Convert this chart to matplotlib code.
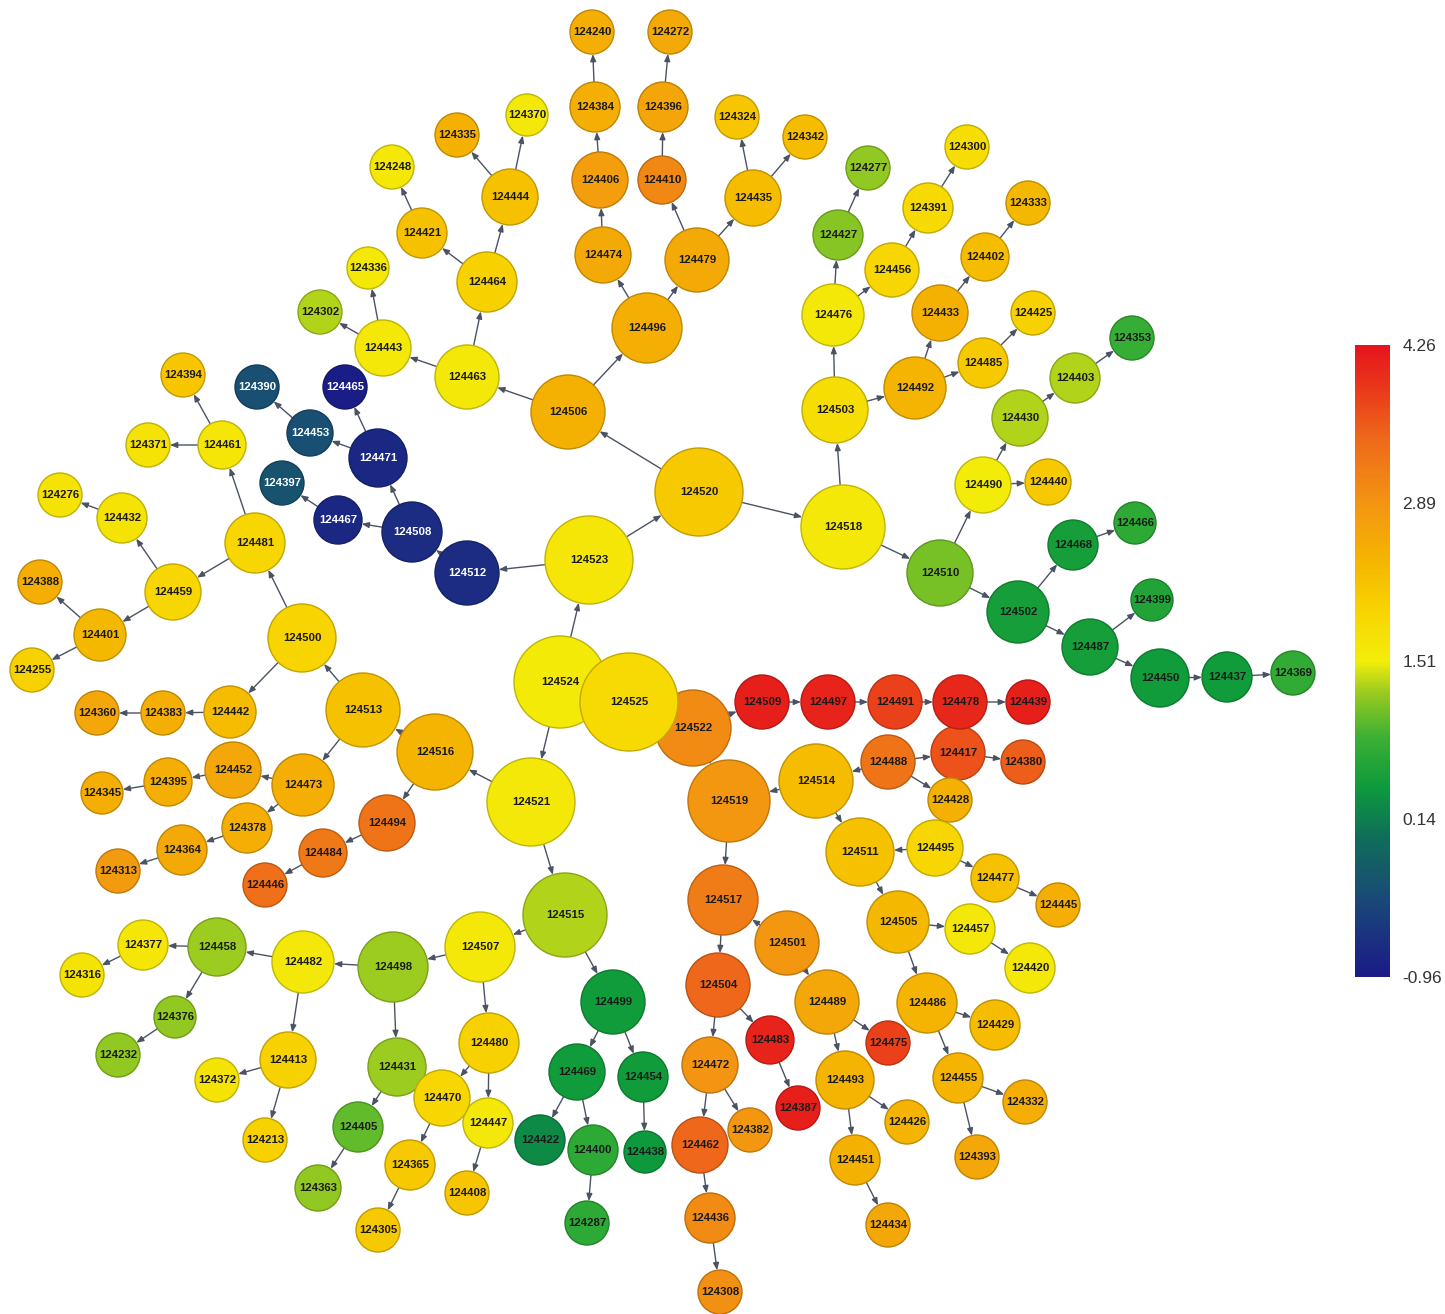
import numpy as np
import matplotlib
matplotlib.use("Agg")
import matplotlib.pyplot as plt
from matplotlib.colors import LinearSegmentedColormap, FuncNorm
from matplotlib.collections import PatchCollection
from matplotlib.patches import Circle
from matplotlib.cm import ScalarMappable

# ---------------------------------------------------------------- data
# node id -> value shown by colour
node_values = {
    124525: 1.85, 124524: 1.58, 124523: 1.65, 124522: 3.00, 124521: 1.60,
    124520: 2.10, 124519: 2.85, 124518: 1.60, 124517: 3.20, 124516: 2.40,
    124515: 1.30, 124514: 2.30, 124513: 2.20, 124512: -0.75, 124511: 2.20,
    124510: 1.10, 124509: 4.15, 124508: -0.75, 124507: 1.60, 124506: 2.45,
    124505: 2.35, 124504: 3.45, 124503: 1.80, 124502: 0.50, 124501: 2.85,
    124500: 1.95, 124499: 0.45, 124498: 1.25, 124497: 4.10, 124496: 2.50,
    124495: 1.90, 124494: 3.30, 124493: 2.40, 124492: 2.40, 124491: 3.80,
    124490: 1.55, 124489: 2.60, 124488: 3.30, 124487: 0.50, 124486: 2.40,
    124485: 2.10, 124484: 3.25, 124483: 4.10, 124482: 1.60, 124481: 1.90,
    124480: 2.00, 124479: 2.55, 124478: 4.05, 124477: 2.20, 124476: 1.60,
    124475: 3.80, 124474: 2.55, 124473: 2.50, 124472: 2.90, 124471: -0.80,
    124470: 1.90, 124469: 0.45, 124468: 0.50, 124467: -0.80, 124466: 0.70,
    124465: -0.92, 124464: 2.00, 124463: 1.60, 124462: 3.45, 124461: 1.65,
    124459: 1.90, 124458: 1.25, 124457: 1.60, 124456: 1.90, 124455: 2.40,
    124454: 0.45, 124453: -0.35, 124452: 2.60, 124451: 2.45, 124450: 0.45,
    124447: 1.60,
    124446: 3.35, 124445: 2.50, 124444: 2.20, 124443: 1.60, 124442: 2.30,
    124440: 2.10, 124439: 4.15, 124438: 0.40, 124437: 0.45, 124436: 3.00,
    124435: 2.30, 124434: 2.60, 124433: 2.45, 124432: 1.70, 124431: 1.25,
    124430: 1.30, 124429: 2.30, 124428: 2.45, 124427: 1.15, 124426: 2.40,
    124425: 2.00, 124422: 0.25, 124421: 2.20, 124420: 1.60, 124417: 3.65,
    124413: 2.00, 124410: 3.05, 124408: 2.15, 124406: 2.75, 124405: 1.00,
    124403: 1.30, 124402: 2.30, 124401: 2.35, 124400: 0.70, 124399: 0.60,
    124397: -0.30, 124396: 2.65, 124395: 2.50, 124394: 2.15, 124393: 2.60,
    124391: 1.85, 124390: -0.35, 124388: 2.50, 124387: 4.15, 124384: 2.50,
    124383: 2.50, 124382: 2.85, 124380: 3.55, 124378: 2.50, 124377: 1.65,
    124376: 1.20, 124372: 1.70, 124371: 1.70, 124370: 1.60, 124369: 0.75,
    124365: 2.10, 124364: 2.55, 124363: 1.20, 124360: 2.60, 124353: 0.80,
    124345: 2.50, 124342: 2.30, 124336: 1.60, 124335: 2.45, 124333: 2.35,
    124332: 2.50, 124324: 2.15, 124316: 1.70, 124313: 2.80, 124308: 2.95,
    124305: 2.10, 124302: 1.30, 124300: 1.80, 124287: 0.70, 124277: 1.20,
    124276: 1.70, 124272: 2.55, 124255: 2.00, 124248: 1.60, 124240: 2.50,
    124232: 1.20, 124213: 2.00,
}

# directed links (source, target)
edges = [
    (124525, 124524), (124525, 124522), (124524, 124523), (124524, 124521),
    (124523, 124520), (124523, 124512), (124520, 124506), (124520, 124518),
    (124518, 124503), (124518, 124510), (124510, 124490), (124510, 124502),
    (124490, 124430), (124490, 124440), (124430, 124403), (124403, 124353),
    (124502, 124468), (124468, 124466), (124502, 124487), (124487, 124399),
    (124487, 124450), (124450, 124437), (124437, 124369),
    (124503, 124476), (124503, 124492), (124476, 124427), (124427, 124277),
    (124476, 124456), (124456, 124391), (124391, 124300),
    (124492, 124433), (124433, 124402), (124402, 124333), (124492, 124485),
    (124485, 124425),
    (124506, 124496), (124506, 124463), (124496, 124474), (124496, 124479),
    (124474, 124406), (124406, 124384), (124384, 124240),
    (124479, 124410), (124410, 124396), (124396, 124272),
    (124479, 124435), (124435, 124324), (124435, 124342),
    (124463, 124443), (124463, 124464), (124443, 124302), (124443, 124336),
    (124464, 124421), (124421, 124248), (124464, 124444), (124444, 124335),
    (124444, 124370),
    (124512, 124508), (124508, 124471), (124508, 124467), (124467, 124397),
    (124471, 124453), (124471, 124465), (124453, 124390),
    (124521, 124516), (124521, 124515), (124516, 124513), (124516, 124494),
    (124494, 124484), (124484, 124446), (124513, 124500), (124513, 124473),
    (124500, 124481), (124500, 124442), (124442, 124383), (124383, 124360),
    (124481, 124461), (124481, 124459), (124461, 124394), (124461, 124371),
    (124459, 124432), (124432, 124276), (124459, 124401), (124401, 124388),
    (124401, 124255),
    (124473, 124452), (124452, 124395), (124395, 124345), (124473, 124378),
    (124378, 124364), (124364, 124313),
    (124515, 124507), (124515, 124499), (124507, 124498), (124507, 124480),
    (124498, 124482), (124498, 124431), (124482, 124458), (124482, 124413),
    (124458, 124377), (124377, 124316), (124458, 124376), (124376, 124232),
    (124413, 124372), (124413, 124213), (124431, 124405), (124405, 124363),
    (124480, 124470), (124480, 124447), (124470, 124365), (124365, 124305),
    (124447, 124408),
    (124499, 124469), (124499, 124454), (124469, 124422), (124469, 124400),
    (124400, 124287), (124454, 124438),
    (124522, 124509), (124509, 124497), (124497, 124491), (124491, 124478),
    (124478, 124439),
    (124522, 124519), (124519, 124517), (124514, 124519),
    (124488, 124514), (124488, 124417), (124417, 124380), (124488, 124428),
    (124514, 124511), (124495, 124511), (124495, 124477), (124477, 124445),
    (124511, 124505), (124505, 124457), (124457, 124420), (124505, 124486),
    (124486, 124429), (124486, 124455), (124455, 124332), (124455, 124393),
    (124517, 124504), (124501, 124517),
    (124501, 124489), (124489, 124475), (124489, 124493), (124493, 124426),
    (124493, 124451), (124451, 124434),
    (124504, 124483), (124483, 124387), (124504, 124472), (124472, 124462),
    (124472, 124382), (124462, 124436), (124436, 124308),
]

colorbar_ticks = [-0.96, 0.14, 1.51, 2.89, 4.26]

# ---------------------------------------------------------------- layout
# node id -> (x, y, radius) in canvas pixels (y downwards)
layout = {
    124525: (629, 702, 49), 124524: (560, 682, 46), 124523: (589, 560, 44),
    124522: (693, 728, 38), 124521: (531, 802, 44), 124520: (699, 492, 44),
    124519: (729, 801, 41), 124518: (843, 527, 42), 124517: (723, 900, 35),
    124516: (435, 752, 38), 124515: (565, 915, 42), 124514: (816, 781, 37),
    124513: (363, 710, 37), 124512: (467, 573, 32), 124511: (860, 852, 34),
    124510: (940, 573, 33), 124509: (762, 702, 27), 124508: (412, 532, 30),
    124507: (480, 947, 35), 124506: (568, 412, 37), 124505: (898, 922, 31),
    124504: (718, 985, 32), 124503: (835, 410, 33), 124502: (1018, 612, 31),
    124501: (787, 943, 32), 124500: (302, 638, 34), 124499: (613, 1002, 32),
    124498: (393, 967, 35), 124497: (828, 702, 27), 124496: (647, 328, 35),
    124495: (935, 848, 28), 124494: (387, 823, 28), 124493: (845, 1080, 29),
    124492: (915, 388, 31), 124491: (895, 702, 27), 124490: (983, 485, 28),
    124489: (827, 1002, 32), 124488: (888, 762, 27), 124487: (1090, 647, 28),
    124486: (927, 1003, 30), 124485: (983, 363, 25), 124484: (323, 853, 24),
    124483: (770, 1040, 24), 124482: (303, 962, 31), 124481: (255, 543, 30),
    124480: (489, 1043, 30), 124479: (697, 260, 32), 124478: (960, 702, 27),
    124477: (995, 878, 24), 124476: (833, 315, 31), 124475: (888, 1043, 22),
    124474: (603, 255, 28), 124473: (303, 785, 31), 124472: (710, 1065, 28),
    124471: (378, 458, 29), 124470: (442, 1098, 28), 124469: (577, 1072, 28),
    124468: (1073, 545, 25), 124467: (338, 520, 24), 124466: (1135, 523, 21),
    124465: (345, 387, 22), 124464: (487, 282, 30), 124463: (467, 377, 32),
    124462: (700, 1145, 28), 124461: (222, 445, 24), 124459: (173, 592, 28),
    124458: (217, 947, 29), 124457: (970, 929, 25), 124456: (892, 270, 27),
    124455: (958, 1078, 25), 124454: (643, 1077, 25), 124453: (310, 433, 23),
    124452: (233, 770, 28), 124451: (855, 1160, 25), 124450: (1160, 678, 29),
    124447: (488, 1123, 25),
    124446: (265, 885, 22), 124445: (1058, 905, 22), 124444: (510, 197, 28),
    124443: (383, 348, 28), 124442: (230, 712, 26), 124440: (1048, 482, 23),
    124439: (1028, 702, 22), 124438: (645, 1152, 21), 124437: (1227, 677, 25),
    124436: (710, 1218, 25), 124435: (753, 198, 28), 124434: (888, 1225, 22),
    124433: (940, 313, 28), 124432: (122, 518, 25), 124431: (397, 1067, 29),
    124430: (1020, 418, 28), 124429: (995, 1025, 25), 124428: (950, 800, 22),
    124427: (838, 235, 25), 124426: (907, 1122, 22), 124425: (1033, 313, 22),
    124422: (540, 1140, 25), 124421: (422, 233, 25), 124420: (1030, 968, 25),
    124417: (958, 753, 27), 124413: (288, 1060, 28), 124410: (662, 180, 24),
    124408: (467, 1193, 22), 124406: (600, 180, 28), 124405: (358, 1127, 25),
    124403: (1075, 378, 25), 124402: (985, 257, 24), 124401: (100, 635, 26),
    124400: (593, 1150, 25), 124399: (1152, 600, 21), 124397: (282, 483, 22),
    124396: (663, 107, 25), 124395: (168, 782, 24), 124394: (183, 375, 22),
    124393: (977, 1157, 22), 124391: (928, 208, 25), 124390: (257, 387, 22),
    124388: (40, 582, 22), 124387: (798, 1108, 22), 124384: (595, 107, 25),
    124383: (163, 713, 22), 124382: (750, 1130, 22), 124380: (1023, 762, 22),
    124378: (247, 828, 25), 124377: (143, 945, 25), 124376: (175, 1017, 21),
    124372: (217, 1080, 22), 124371: (148, 445, 22), 124370: (527, 115, 21),
    124369: (1293, 673, 22), 124365: (410, 1165, 25), 124364: (182, 850, 25),
    124363: (318, 1188, 23), 124360: (97, 713, 22), 124353: (1132, 338, 22),
    124345: (102, 793, 21), 124342: (805, 137, 22), 124336: (368, 268, 21),
    124335: (457, 135, 22), 124333: (1028, 203, 22), 124332: (1025, 1102, 22),
    124324: (737, 117, 22), 124316: (82, 975, 22), 124313: (118, 871, 22),
    124308: (720, 1292, 22), 124305: (378, 1230, 22), 124302: (320, 312, 22),
    124300: (967, 147, 22), 124287: (587, 1223, 22), 124277: (868, 168, 22),
    124276: (60, 495, 22), 124272: (670, 32, 22), 124255: (32, 670, 22),
    124248: (392, 167, 22), 124240: (592, 32, 22), 124232: (118, 1055, 22),
    124213: (265, 1140, 22),
}

# ---------------------------------------------------------------- colour scale
cmap = LinearSegmentedColormap.from_list("blue_green_yellow_red", [
    (0.00, "#1b1a88"), (0.12, "#1a4878"), (0.22, "#0f6e5a"),
    (0.30, "#0d9a3c"), (0.38, "#3db033"), (0.45, "#9acb20"),
    (0.50, "#f3ee0a"), (0.58, "#f8d400"), (0.66, "#f5b500"),
    (0.75, "#f39512"), (0.85, "#ee6a1a"), (0.93, "#ea3a1a"),
    (1.00, "#e5141c"),
])
tick_pos = np.linspace(0, 1, len(colorbar_ticks))


def _fwd(v):
    return np.interp(v, colorbar_ticks, tick_pos)


def _inv(p):
    return np.interp(p, tick_pos, colorbar_ticks)


norm = FuncNorm((_fwd, _inv), vmin=colorbar_ticks[0], vmax=colorbar_ticks[-1])

# ---------------------------------------------------------------- figure
W, H = 1445, 1314
fig = plt.figure(figsize=(W / 100, H / 100), dpi=100)
ax = fig.add_axes([0, 0, 1, 1])
ax.set_xlim(0, W)
ax.set_ylim(H, 0)
ax.set_aspect("equal")
ax.axis("off")

# links
for s, t in edges:
    xs, ys, rs = layout[s]
    xt, yt, rt = layout[t]
    d = np.hypot(xt - xs, yt - ys)
    if d <= rs + rt + 2:
        continue
    ux, uy = (xt - xs) / d, (yt - ys) / d
    ax.annotate("", xy=(xt - ux * rt, yt - uy * rt),
                xytext=(xs + ux * rs, ys + uy * rs),
                arrowprops=dict(arrowstyle="-|>,head_length=0.42,head_width=0.17",
                                color="#4a5263", lw=1.0,
                                shrinkA=0, shrinkB=0, mutation_scale=10),
                zorder=1)

# nodes, drawn in id order so the larger ids sit on top
ids = sorted(node_values)
vals = np.array([node_values[i] for i in ids])
circles = [Circle(layout[i][:2], layout[i][2]) for i in ids]
face = cmap(norm(vals))
edge = face.copy()
edge[:, :3] *= 0.78
pc = PatchCollection(circles, cmap=cmap, norm=norm,
                     edgecolors=edge, linewidths=1.0, zorder=2)
pc.set_array(vals)
ax.add_collection(pc)

for i, v in zip(ids, vals):
    x, y, r = layout[i]
    ax.text(x, y, str(i), ha="center", va="center", fontsize=8.2,
            family="Liberation Sans", fontweight="bold",
            color="white" if v < -0.1 else "#1a1a1a", zorder=3)

# colour bar
cax = fig.add_axes([1355 / W, 1 - 977 / H, 35 / W, 632 / H])
cb = fig.colorbar(ScalarMappable(norm=norm, cmap=cmap), cax=cax,
                  ticks=colorbar_ticks)
cb.outline.set_visible(False)
cb.ax.set_yticklabels([f"{t:.2f}" for t in colorbar_ticks])
cb.ax.tick_params(length=0, pad=9, labelsize=12.5, labelcolor="#333333")
for lab in cb.ax.get_yticklabels():
    lab.set_family("Liberation Sans")

fig.savefig("out.png", dpi=100)
